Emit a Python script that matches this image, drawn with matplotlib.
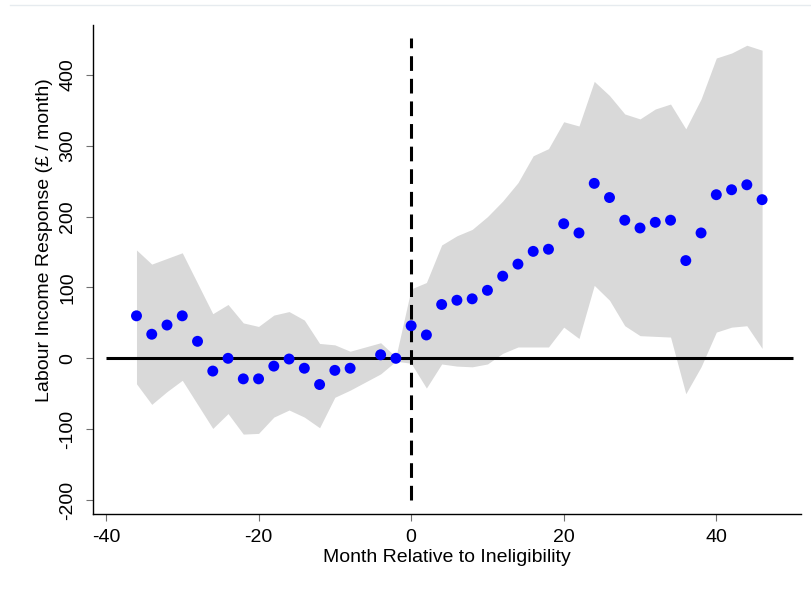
import matplotlib
matplotlib.use("Agg")
import matplotlib.pyplot as plt
from matplotlib.lines import Line2D

plt.rcParams['font.family'] = ['Liberation Sans', 'DejaVu Sans']

# Event-time estimates (months relative to ineligibility), with 95% band
months = [-36, -34, -32, -30, -28, -26, -24, -22, -20, -18, -16, -14, -12, -10, -8,
          -4, -2, 0, 2, 4, 6, 8, 10, 12, 14, 16, 18, 20, 22, 24, 26, 28, 30, 32, 34,
          36, 38, 40, 42, 44, 46]
estimate = [60, 34, 47, 60, 24, -18, 0, -29, -29, -11, -1, -14, -37, -17, -14,
            5, 0, 46, 33, 76, 82, 84, 96, 116, 133, 151, 154, 190, 177, 247, 227,
            195, 184, 192, 195, 138, 177, 231, 238, 245, 224]
ci_upper = [153, 133, 141, 149, 106, 63, 76, 50, 45, 61, 66, 54, 21, 19, 10,
            22, 2, 98, 107, 160, 173, 182, 200, 222, 248, 286, 296, 334, 328, 391,
            371, 345, 338, 352, 359, 324, 366, 424, 431, 442, 435]
ci_lower = [-36, -65, -47, -31, -65, -99, -78, -107, -106, -83, -73, -83, -98, -55, -45,
            -22, -4, -7, -42, -8, -11, -12, -8, 7, 16, 16, 16, 44, 28, 103,
            82, 46, 32, 31, 30, -50, -12, 37, 44, 46, 14]

x_ticks = [-40, -20, 0, 20, 40]
y_ticks = [-200, -100, 0, 100, 200, 300, 400]

W, H = 811, 592
fig = plt.figure(figsize=(W / 100, H / 100), dpi=100)
ax = fig.add_axes([93 / W, 1 - 514 / H, (801 - 93) / W, (514 - 25) / H])

ax.fill_between(months, ci_lower, ci_upper, color='#d9d9d9', linewidth=0, zorder=1)
ax.plot([-40, 50], [0, 0], color='black', linewidth=2.2, zorder=2, solid_capstyle='butt')
ax.plot([0, 0], [-200, 452], color='black', linewidth=2.2, zorder=2,
        linestyle=(0, (4.8, 2.6)), dash_capstyle='butt')
ax.scatter(months, estimate, s=62, color='#0000ff', edgecolors='none', zorder=3)

ax.set_xlim(-41.7, 51.1)
ax.set_ylim(-219.8, 470.6)
ax.set_xticks(x_ticks)
ax.set_yticks(y_ticks)
ax.set_xticklabels([str(v) for v in x_ticks])
ax.set_yticklabels([str(v) for v in y_ticks], rotation=90, va='center')

for side in ('top', 'right'):
    ax.spines[side].set_visible(False)
for side in ('left', 'bottom'):
    ax.spines[side].set_linewidth(1.0)
    ax.spines[side].set_color('black')

ax.tick_params(axis='both', which='major', length=5, width=0.8, color='#707070',
               labelsize=14, labelcolor='black')
ax.tick_params(axis='x', pad=6)
ax.tick_params(axis='y', pad=7)

ax.set_xlabel('Month Relative to Ineligibility', fontsize=14, labelpad=2)
ax.set_ylabel('Labour Income Response (£ / month)', fontsize=14)
ax.yaxis.set_label_coords(-0.057, 0.56)

fig.add_artist(Line2D([0.012, 1.0], [1 - 4.5 / H, 1 - 4.5 / H], color='#e6ebef',
                      linewidth=1.0, transform=fig.transFigure))

fig.savefig('out.png', dpi=100, facecolor='white')
